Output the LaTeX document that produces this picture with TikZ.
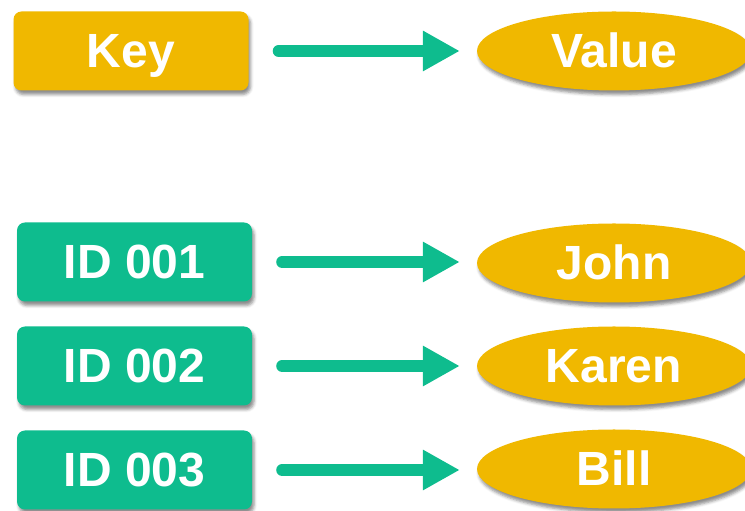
\documentclass[tikz,border=0pt]{standalone}
\usepackage{fontspec}
\setmainfont{Liberation Sans}
\usetikzlibrary{shapes.geometric,arrows.meta,shadows.blur}
\definecolor{gold}{HTML}{F0B800}
\definecolor{teal}{HTML}{0EBC8E}
\tikzset{
  keybox/.style={rounded corners=8pt, minimum width=235pt, minimum height=79pt,
    inner sep=0pt, text=white, font=\bfseries\fontsize{48}{50}\selectfont,
    text height=34pt, text depth=0pt,
    blur shadow={shadow xshift=2pt, shadow yshift=-4pt, shadow blur radius=3pt, shadow opacity=45}},
  valbox/.style={ellipse, fill=gold, minimum width=274pt, minimum height=79pt,
    inner sep=0pt, text=white, font=\bfseries\fontsize{48}{50}\selectfont,
    text height=34pt, text depth=0pt,
    blur shadow={shadow xshift=2pt, shadow yshift=-4pt, shadow blur radius=3pt, shadow opacity=45}},
  link/.style={draw=teal, line width=12pt, line cap=round,
    -{Triangle[length=37pt 0 0,width=38pt 0 0]},
    shorten <=30pt, shorten >=17pt}
}
\begin{document}
\begin{tikzpicture}[x=1pt,y=1pt]
\useasboundingbox (0,0) rectangle (745,511);
\clip (0,0) rectangle (745,511);
\node[keybox, fill=gold] (key) at (131,460) {Key};
\node[valbox] (value) at (614,460) {Value};
\node[keybox, fill=teal] (id1) at (134.5,249) {ID 001};
\node[valbox] (john) at (614,248) {John};
\node[keybox, fill=teal] (id2) at (134.5,145) {ID 002};
\node[valbox] (karen) at (614,145) {Karen};
\node[keybox, fill=teal] (id3) at (134.5,41) {ID 003};
\node[valbox] (bill) at (614,42) {Bill};
\draw[link] (key.east) -- (key.east -| value.west);
\draw[link] (id1.east) -- (id1.east -| john.west);
\draw[link] (id2.east) -- (id2.east -| karen.west);
\draw[link] (id3.east) -- (id3.east -| bill.west);
\end{tikzpicture}
\end{document}
